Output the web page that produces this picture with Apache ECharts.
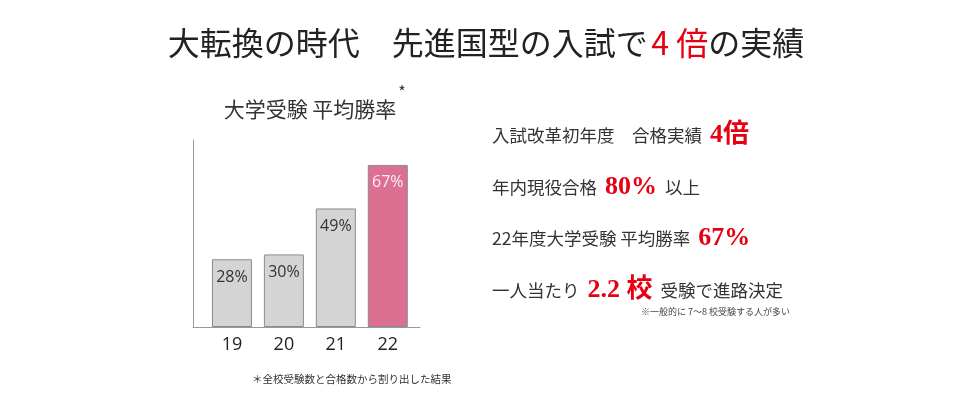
<!DOCTYPE html>
<html>
<head>
<meta charset="utf-8">
<script src="https://cdn.jsdelivr.net/npm/echarts@6/dist/echarts.min.js"></script>
<style>
html, body { margin: 0; padding: 0; background: #fff; }
#chart { width: 972px; height: 397px; }
</style>
</head>
<body>
<div id="chart"></div>
<script>
// 年度と平均勝率
const years = [19, 20, 21, 22];
const rates = [28, 30, 49, 67];
const barColors = ['#d4d4d4', '#d4d4d4', '#d4d4d4', '#db7093'];
const labelColors = ['#333', '#333', '#333', '#fdeef3'];

const CJK = '"Noto Sans CJK JP", sans-serif';
const SERIF = '"Liberation Serif", "Noto Sans CJK JP", serif';

const chart = echarts.init(document.getElementById('chart'));

const barData = years.map((y, i) => ({
	value: [y, rates[i]],
	itemStyle: { color: barColors[i] },
	label: { color: labelColors[i] }
}));

const rich = {
	k: { fontFamily: CJK, fontSize: 17.5, fill: '#333' },
	s: { fontFamily: CJK, fontSize: 17.5, fill: '#333', width: 8 },
	r: { fontFamily: SERIF, fontSize: 26, fontWeight: 'bold', fill: '#e60012' }
};

function line(y, text) {
	return {
		type: 'text',
		x: 492,
		y: y,
		style: { text: text, rich: rich, verticalAlign: 'middle' }
	};
}

const option = {
	animation: false,
	grid: { left: 193, right: 552, top: 140, bottom: 70 },
	xAxis: {
		type: 'value',
		min: 18.25,
		max: 22.62,
		axisLine: { show: true, lineStyle: { color: '#999', width: 1 } },
		axisTick: { show: false },
		splitLine: { show: false },
		axisLabel: {
			customValues: years,
			color: '#222',
			fontSize: 18,
			fontFamily: '"Open Sans", sans-serif',
			margin: 9
		}
	},
	yAxis: {
		type: 'value',
		min: 0,
		max: 77.3,
		axisLine: { show: true, lineStyle: { color: '#999', width: 1 } },
		axisTick: { show: false },
		axisLabel: { show: false },
		splitLine: { show: false }
	},
	series: [{
		type: 'bar',
		barWidth: 40,
		data: barData,
		itemStyle: { borderColor: '#8c8c8c', borderWidth: 1 },
		label: {
			show: true,
			position: 'insideTop',
			distance: 10,
			fontSize: 16,
			fontFamily: '"Open Sans", sans-serif',
			formatter: p => p.value[1] + '%'
		}
	}],
	graphic: [
		{
			type: 'text',
			x: 486,
			y: 43,
			style: {
				text: '{a|大転換の時代　先進国型の入試で} {r|4 倍}{a|の実績}',
				align: 'center',
				verticalAlign: 'middle',
				rich: {
					a: { fontFamily: CJK, fontSize: 32, fill: '#222' },
					r: { fontFamily: CJK, fontSize: 32, fill: '#e60012' }
				}
			}
		},
		{
			type: 'text',
			x: 310,
			y: 109,
			style: {
				text: '大学受験 平均勝率',
				align: 'center',
				verticalAlign: 'middle',
				fontFamily: CJK,
				fontSize: 21,
				fill: '#333'
			}
		},
		{
			type: 'text',
			x: 402,
			y: 92,
			style: { text: '*', align: 'center', verticalAlign: 'middle', fontFamily: CJK, fontSize: 16, fill: '#333' }
		},
		line(135, '{k|入試改革初年度　合格実績}{s|}{r|4倍}'),
		line(187, '{k|年内現役合格}{s|}{r|80%}{s|}{k|以上}'),
		line(238, '{k|22年度大学受験 平均勝率}{s|}{r|67%}'),
		line(290, '{k|一人当たり}{s|}{r|2.2 校}{s|}{k|受験で進路決定}'),
		{
			type: 'text',
			x: 790,
			y: 312,
			style: {
				text: '※一般的に 7〜8 校受験する人が多い',
				align: 'right',
				verticalAlign: 'middle',
				fontFamily: CJK,
				fontSize: 9,
				fill: '#444'
			}
		},
		{
			type: 'text',
			x: 252,
			y: 379,
			style: {
				text: '＊全校受験数と合格数から割り出した結果',
				verticalAlign: 'middle',
				fontFamily: CJK,
				fontSize: 10.5,
				fill: '#333'
			}
		}
	]
};

chart.setOption(option);
</script>
</body>
</html>
